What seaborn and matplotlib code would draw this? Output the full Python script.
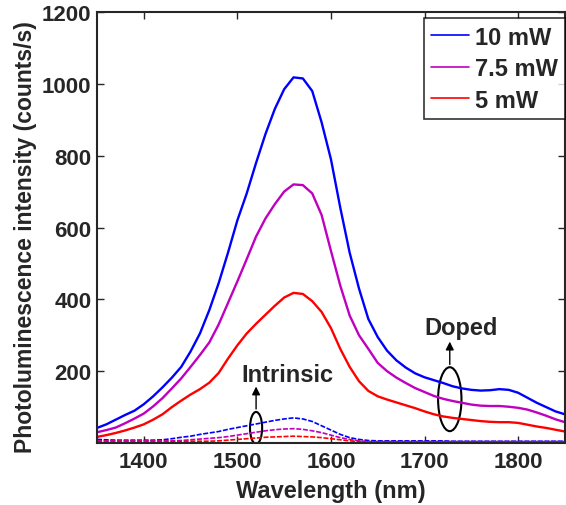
import numpy as np
import pandas as pd
import matplotlib
matplotlib.use("Agg")
import matplotlib.pyplot as plt
from matplotlib.patches import Ellipse
import seaborn as sns

wavelength = list(range(1350, 1851, 10))

doped_10mW = [42, 52, 65, 78, 90, 108, 130, 155, 182, 212, 255, 305, 370, 445, 530,
              620, 695, 780, 860, 930, 985, 1018, 1015, 980, 893, 790, 655, 530, 430,
              345, 295, 257, 230, 210, 194, 183, 175, 167, 158, 152, 148, 146, 147,
              150, 148, 140, 126, 112, 100, 88, 80]
doped_7p5mW = [30, 36, 43, 55, 68, 82, 102, 125, 152, 180, 212, 245, 280, 330, 390,
               450, 512, 575, 625, 665, 700, 720, 718, 695, 635, 535, 438, 355, 300,
               262, 223, 200, 182, 167, 153, 142, 131, 123, 117, 112, 107, 104, 103,
               103, 101, 98, 93, 85, 76, 66, 58]
doped_5mW = [17, 22, 28, 35, 43, 52, 65, 80, 100, 118, 135, 150, 168, 195, 235,
             272, 305, 332, 357, 382, 405, 418, 415, 395, 365, 320, 262, 212, 172,
             145, 130, 121, 113, 105, 97, 88, 80, 74, 70, 67, 64, 61, 59, 58, 58,
             56, 51, 46, 42, 37, 32]
intr_10mW = [10, 9, 8, 8, 8, 8, 8, 9, 12, 16, 19, 24, 28, 32, 38, 43, 48, 53, 58,
             63, 67, 70, 67, 60, 48, 36, 24, 15, 10, 7, 6, 6, 6, 6, 6, 6, 6, 6, 5,
             5, 5, 5, 5, 5, 5, 5, 5, 5, 5, 5, 5]
intr_7p5mW = [6, 6, 6, 6, 6, 6, 6, 6, 6, 7, 9, 11, 13, 15, 18, 22, 26, 30, 34, 37,
              39, 40, 38, 34, 29, 22, 15, 10, 6, 4, 4, 4, 4, 4, 4, 4, 4, 4, 4, 4, 4,
              4, 4, 4, 4, 4, 4, 4, 4, 4, 4]
intr_5mW = [4, 4, 4, 4, 4, 4, 4, 4, 4, 4, 5, 5, 5, 6, 8, 10, 12, 14, 16, 17, 18,
            19, 18, 17, 15, 12, 9, 6, 4, 3, 3, 3, 3, 3, 3, 3, 3, 3, 3, 3, 3, 3, 3,
            3, 3, 3, 3, 3, 3, 3, 3]

powers = ["10 mW", "7.5 mW", "5 mW"]
colors = {"10 mW": "#0000FF", "7.5 mW": "#BF00BF", "5 mW": "#FF0000"}
xticks = [1400, 1500, 1600, 1700, 1800]
yticks = [200, 400, 600, 800, 1000, 1200]

doped = pd.DataFrame({
    "wl": wavelength * 3,
    "I": doped_10mW + doped_7p5mW + doped_5mW,
    "power": sum([[p] * len(wavelength) for p in powers], []),
})
intr = pd.DataFrame({
    "wl": wavelength * 3,
    "I": intr_10mW + intr_7p5mW + intr_5mW,
    "power": sum([[p] * len(wavelength) for p in powers], []),
})

sns.set_style("ticks")
plt.rcParams["font.family"] = ["Liberation Sans", "DejaVu Sans"]
plt.rcParams["font.weight"] = "bold"

fig = plt.figure(figsize=(5.66, 5.06), dpi=100)
ax = fig.add_axes([0.1714, 0.1225, 0.8266, 0.8518])

sns.lineplot(data=doped, x="wl", y="I", hue="power", hue_order=powers,
             palette=colors, linewidth=1.7, ax=ax, legend=False)
main_lines = list(ax.lines)
sns.lineplot(data=intr, x="wl", y="I", hue="power", hue_order=powers,
             palette=colors, linewidth=1.2, ax=ax, legend=False)
for line in ax.lines[len(main_lines):]:
    line.set_dashes((3, 1))

ax.set_xlim(1350, 1850)
ax.set_ylim(0, 1200)
ax.set_xticks(xticks)
ax.set_yticks(yticks)
ax.tick_params(direction="in", length=5, width=1, top=True, right=True,
               labelsize=16, pad=4)
ax.tick_params(axis="x", pad=6)
for lab in ax.get_xticklabels() + ax.get_yticklabels():
    lab.set_fontweight("bold")
for s in ax.spines.values():
    s.set_linewidth(1.5)
    s.set_visible(True)

ax.set_xlabel("Wavelength (nm)", fontsize=17, fontweight="bold", labelpad=5)
ax.set_ylabel("Photoluminescence intensity (counts/s)", fontsize=16.5,
              fontweight="bold", labelpad=3)
ax.yaxis.set_label_coords(-0.128, 0.481)

leg = ax.legend(main_lines, powers, loc="upper right", bbox_to_anchor=(1.0, 0.985),
                fontsize=17, frameon=True, fancybox=False, edgecolor="black",
                handlelength=1.6, handletextpad=0.25, borderpad=0.3,
                labelspacing=0.36, borderaxespad=0.0)
leg.get_frame().set_linewidth(1.2)
for t in leg.get_texts():
    t.set_fontweight("bold")
for h in leg.get_lines():
    h.set_linewidth(1.2)

# annotations
ax.add_patch(Ellipse((1520, 42), 13, 89, fill=False, edgecolor="black", linewidth=1.5))
ax.add_patch(Ellipse((1727, 122), 25, 178, fill=False, edgecolor="black", linewidth=1.5))
ax.annotate("", xy=(1520, 165), xytext=(1520, 87),
            arrowprops=dict(arrowstyle="-|>", color="black", lw=1.0, mutation_scale=12))
ax.annotate("", xy=(1727, 290), xytext=(1727, 211),
            arrowprops=dict(arrowstyle="-|>", color="black", lw=1.0, mutation_scale=12))
ax.text(1554, 192, "Intrinsic", ha="center", va="center", fontsize=17, fontweight="bold")
ax.text(1739, 323, "Doped", ha="center", va="center", fontsize=17, fontweight="bold")

fig.savefig("out.png", dpi=100)
